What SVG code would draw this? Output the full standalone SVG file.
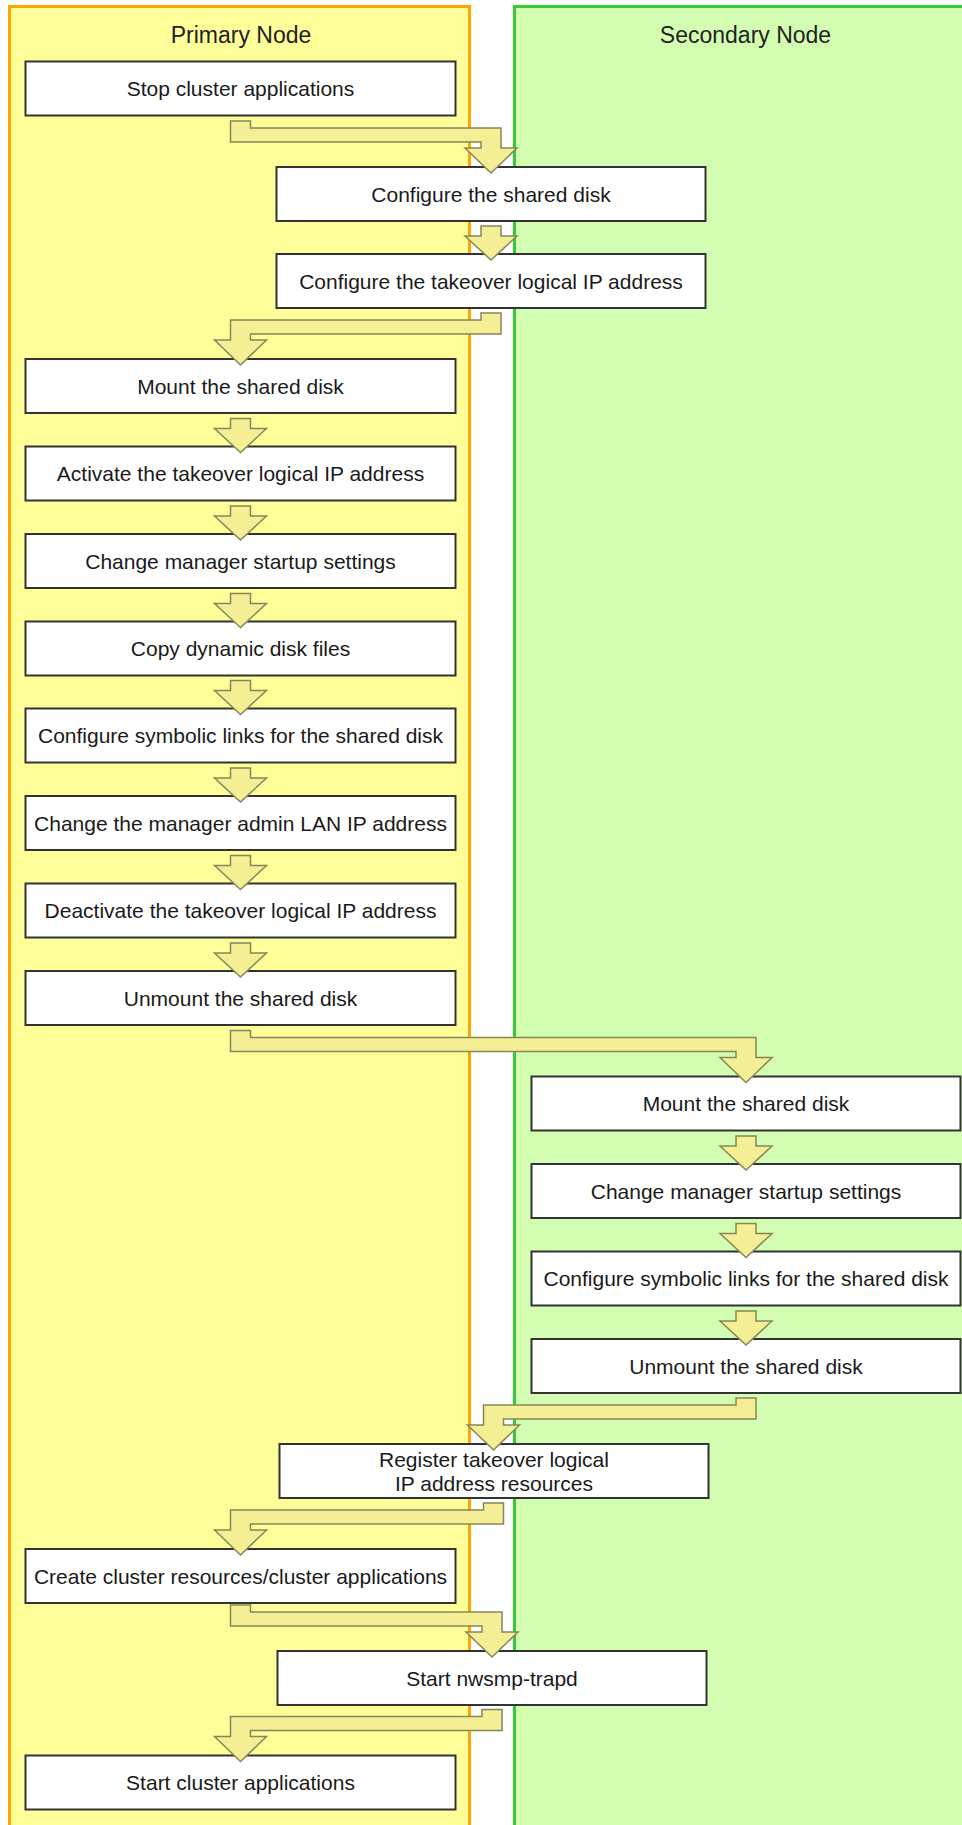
<svg xmlns="http://www.w3.org/2000/svg" width="962" height="1825" viewBox="0 0 962 1825">
<style>
.lane-p{fill:#FFFF99;stroke:#FFA500;stroke-width:3}
.lane-s{fill:#D3FEB1;stroke:#33CC33;stroke-width:3}
.title{font-family:"Liberation Sans",Arial,sans-serif;font-size:23px;fill:#222;text-anchor:middle}
.box{fill:#FFFFFF;stroke:#333333;stroke-width:2}
.lbl{font-family:"Liberation Sans",Arial,sans-serif;font-size:21px;fill:#1a1a1a;text-anchor:middle}
.arr{fill:#F4EE95;stroke:#86865A;stroke-width:1.5;stroke-linejoin:miter}
</style>
<rect width="962" height="1825" fill="#FFFFFF"/>
<g id="lane-primary">
<rect class="lane-p" x="9.5" y="6.5" width="460" height="1830"/>
<text class="title" x="241" y="43">Primary Node</text>
</g>
<g id="lane-secondary">
<rect class="lane-s" x="514.5" y="6.5" width="500" height="1830"/>
<text class="title" x="745.5" y="43">Secondary Node</text>
</g>
<g id="n1"><rect class="box" x="25.5" y="61.5" width="430" height="54"/><text class="lbl" x="240.5" y="96">Stop cluster applications</text></g>
<g id="n2"><rect class="box" x="276.5" y="167" width="429" height="54"/><text class="lbl" x="491" y="201.5">Configure the shared disk</text></g>
<g id="n3"><rect class="box" x="276.5" y="254" width="429" height="54"/><text class="lbl" x="491" y="288.5">Configure the takeover logical IP address</text></g>
<g id="n4"><rect class="box" x="25.5" y="359" width="430" height="54"/><text class="lbl" x="240.5" y="393.5">Mount the shared disk</text></g>
<g id="n5"><rect class="box" x="25.5" y="446.5" width="430" height="54"/><text class="lbl" x="240.5" y="481">Activate the takeover logical IP address</text></g>
<g id="n6"><rect class="box" x="25.5" y="534" width="430" height="54"/><text class="lbl" x="240.5" y="568.5">Change manager startup settings</text></g>
<g id="n7"><rect class="box" x="25.5" y="621.5" width="430" height="54"/><text class="lbl" x="240.5" y="656">Copy dynamic disk files</text></g>
<g id="n8"><rect class="box" x="25.5" y="708.5" width="430" height="54"/><text class="lbl" x="240.5" y="743">Configure symbolic links for the shared disk</text></g>
<g id="n9"><rect class="box" x="25.5" y="796" width="430" height="54"/><text class="lbl" x="240.5" y="830.5">Change the manager admin LAN IP address</text></g>
<g id="n10"><rect class="box" x="25.5" y="883.5" width="430" height="54"/><text class="lbl" x="240.5" y="918">Deactivate the takeover logical IP address</text></g>
<g id="n11"><rect class="box" x="25.5" y="971" width="430" height="54"/><text class="lbl" x="240.5" y="1005.5">Unmount the shared disk</text></g>
<g id="n12"><rect class="box" x="531.5" y="1076.5" width="429" height="54"/><text class="lbl" x="746" y="1111">Mount the shared disk</text></g>
<g id="n13"><rect class="box" x="531.5" y="1164" width="429" height="54"/><text class="lbl" x="746" y="1198.5">Change manager startup settings</text></g>
<g id="n14"><rect class="box" x="531.5" y="1251.5" width="429" height="54"/><text class="lbl" x="746" y="1286">Configure symbolic links for the shared disk</text></g>
<g id="n15"><rect class="box" x="531.5" y="1339" width="429" height="54"/><text class="lbl" x="746" y="1373.5">Unmount the shared disk</text></g>
<g id="n16"><rect class="box" x="279.5" y="1444" width="429" height="54"/><text class="lbl" x="494" y="1467">Register takeover logical</text><text class="lbl" x="494" y="1490.5">IP address resources</text></g>
<g id="n17"><rect class="box" x="25.5" y="1549" width="430" height="54"/><text class="lbl" x="240.5" y="1583.5">Create cluster resources/cluster applications</text></g>
<g id="n18"><rect class="box" x="277.5" y="1651" width="429" height="54"/><text class="lbl" x="492" y="1685.5">Start nwsmp-trapd</text></g>
<g id="n19"><rect class="box" x="25.5" y="1755.5" width="430" height="54"/><text class="lbl" x="240.5" y="1790">Start cluster applications</text></g>
<g id="connectors">
<polygon class="arr" points="230.5,121 250.5,121 250.5,128 501,128 501,148 517,148 491,173 465,148 481,148 481,142 230.5,142"/>
<polygon class="arr" points="481,226 501,226 501,236 517,236 491,260 465,236 481,236"/>
<polygon class="arr" points="501,313 481,313 481,320 230.5,320 230.5,340 214.5,340 240.5,365 266.5,340 250.5,340 250.5,334 501,334"/>
<polygon class="arr" points="230.5,418.5 250.5,418.5 250.5,428.5 266.5,428.5 240.5,452.5 214.5,428.5 230.5,428.5"/>
<polygon class="arr" points="230.5,506 250.5,506 250.5,516 266.5,516 240.5,540 214.5,516 230.5,516"/>
<polygon class="arr" points="230.5,593.5 250.5,593.5 250.5,603.5 266.5,603.5 240.5,627.5 214.5,603.5 230.5,603.5"/>
<polygon class="arr" points="230.5,680.5 250.5,680.5 250.5,690.5 266.5,690.5 240.5,714.5 214.5,690.5 230.5,690.5"/>
<polygon class="arr" points="230.5,768 250.5,768 250.5,778 266.5,778 240.5,802 214.5,778 230.5,778"/>
<polygon class="arr" points="230.5,855.5 250.5,855.5 250.5,865.5 266.5,865.5 240.5,889.5 214.5,865.5 230.5,865.5"/>
<polygon class="arr" points="230.5,943 250.5,943 250.5,953 266.5,953 240.5,977 214.5,953 230.5,953"/>
<polygon class="arr" points="230.5,1030.5 250.5,1030.5 250.5,1037.5 756,1037.5 756,1057.5 772,1057.5 746,1082.5 720,1057.5 736,1057.5 736,1051.5 230.5,1051.5"/>
<polygon class="arr" points="736,1136 756,1136 756,1146 772,1146 746,1170 720,1146 736,1146"/>
<polygon class="arr" points="736,1223.5 756,1223.5 756,1233.5 772,1233.5 746,1257.5 720,1233.5 736,1233.5"/>
<polygon class="arr" points="736,1311 756,1311 756,1321 772,1321 746,1345 720,1321 736,1321"/>
<polygon class="arr" points="756,1398 736,1398 736,1405 483.5,1405 483.5,1425 467.5,1425 493.5,1450 519.5,1425 503.5,1425 503.5,1419 756,1419"/>
<polygon class="arr" points="503.5,1503 483.5,1503 483.5,1510 230.5,1510 230.5,1530 214.5,1530 240.5,1555 266.5,1530 250.5,1530 250.5,1524 503.5,1524"/>
<polygon class="arr" points="230.5,1605 250.5,1605 250.5,1612 502,1612 502,1632 518,1632 492,1657 466,1632 482,1632 482,1626 230.5,1626"/>
<polygon class="arr" points="502,1709.5 482,1709.5 482,1716.5 230.5,1716.5 230.5,1736.5 214.5,1736.5 240.5,1761.5 266.5,1736.5 250.5,1736.5 250.5,1730.5 502,1730.5"/>
</g>
</svg>
